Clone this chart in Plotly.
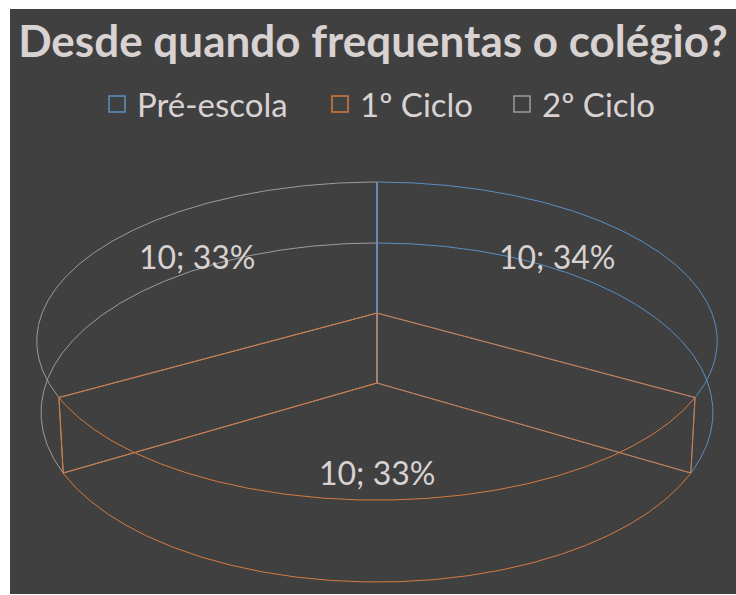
import math
import plotly.graph_objects as go

# ---------------- data ----------------
categories = ["Pré-escola", "1º Ciclo", "2º Ciclo"]
values = [10, 10, 10]
pct_labels = [34, 33, 33]          # percentages as printed on the chart
title_text = "Desde quando frequentas o colégio?"

# ---------------- style ----------------
colors = ["#5b8fc4", "#d77a3e", "#9c9c9c"]
text_color = "#d9d2d2"
bg_color = "#404040"
FONT = "Lato, Carlito, Calibri, sans-serif"
label_radius = [0.655, 0.918, 0.655]

# simple perspective camera for the 3-D pie (unit radius, thickness H)
CX, CY = 377.0, 383.0
F_X, F_Y = 1760.0, 2315.0
DIST = 5.32
TILT = math.atan(0.408)
COS_T, SIN_T = math.cos(TILT), math.sin(TILT)
H = 0.1715


def project(X, Y, Z):
    d = Y * COS_T - Z * SIN_T
    v = Z * COS_T + Y * SIN_T
    den = DIST + d
    return CX + F_X * X / den, CY - F_Y * v / den


def pt(theta_deg, r, z):
    t = math.radians(theta_deg)
    return project(r * math.sin(t), r * math.cos(t), z)


total = float(sum(values))
bounds = []
acc = 0.0
for v in values:
    a0 = acc / total * 360.0
    acc += v
    a1 = acc / total * 360.0
    bounds.append((a0, a1))

fig = go.Figure()


def slice_outline(a0, a1, n=240):
    xs, ys = [], []

    def add(p):
        xs.append(p[0]); ys.append(p[1])

    def gap():
        xs.append(None); ys.append(None)

    for z in (0.0, H):
        add(pt(0, 0, z))
        for i in range(n + 1):
            add(pt(a0 + (a1 - a0) * i / n, 1.0, z))
        add(pt(0, 0, z))
        gap()
    for (a, r) in ((0, 0.0), (a0, 1.0), (a1, 1.0)):
        add(pt(a, r, 0.0)); add(pt(a, r, H)); gap()
    return xs, ys


# draw order: gray, blue, orange (orange outlines end up on top)
for idx in (2, 0, 1):
    a0, a1 = bounds[idx]
    xs, ys = slice_outline(a0, a1)
    fig.add_trace(go.Scatter(
        x=xs, y=ys, mode="lines", connectgaps=False,
        line=dict(color=colors[idx], width=1),
        hoverinfo="skip", showlegend=False,
    ))

# legend entries (one legend per entry to control spacing)
legend_names = ["legend", "legend2", "legend3"]
legend_px = [97, 320, 502]
for i, name in enumerate(categories):
    fig.add_trace(go.Scatter(
        x=[None], y=[None], mode="markers", name=name,
        marker=dict(symbol="square-open", size=16, color=colors[i],
                    line=dict(width=1.5, color=colors[i])),
        legend=legend_names[i], showlegend=True,
    ))

# data labels
annotations = []
for i in range(len(values)):
    a0, a1 = bounds[i]
    lx, ly = pt((a0 + a1) / 2.0, label_radius[i], H)
    annotations.append(dict(
        x=lx, y=ly, xref="x", yref="y", showarrow=False,
        text=f"{values[i]}; {pct_labels[i]}%",
        font=dict(family=FONT, size=32, color=text_color),
        xanchor="center", yanchor="middle", yshift=9,
    ))

L, T, B, R = 10, 9, 1, 0
W, Hh = 736, 595
pw, ph = W - L - R, Hh - T - B

layout_legends = {}
for i, ln in enumerate(legend_names):
    layout_legends[ln] = dict(
        x=(legend_px[i] - L) / pw, xanchor="left",
        y=1 - (104 - T) / ph, yanchor="middle",
        orientation="h", bgcolor="rgba(0,0,0,0)",
        font=dict(family=FONT, size=33, color=text_color),
    )

fig.update_layout(
    width=W, height=Hh,
    margin=dict(l=L, r=R, t=T, b=B, pad=0),
    paper_bgcolor="white", plot_bgcolor=bg_color,
    title=dict(text=f"<b>{title_text}</b>", x=0.5, xref="paper", xanchor="center",
               y=1 - 42 / Hh, yref="container", yanchor="middle",
               font=dict(family=FONT, size=44, color=text_color)),
    xaxis=dict(range=[L, W - R], visible=False, fixedrange=True),
    yaxis=dict(range=[Hh - B, T], visible=False, fixedrange=True),
    annotations=annotations,
    **layout_legends,
)

fig.write_html("out.html", config={"displayModeBar": False},
               post_script="document.body.style.margin='0px';")
